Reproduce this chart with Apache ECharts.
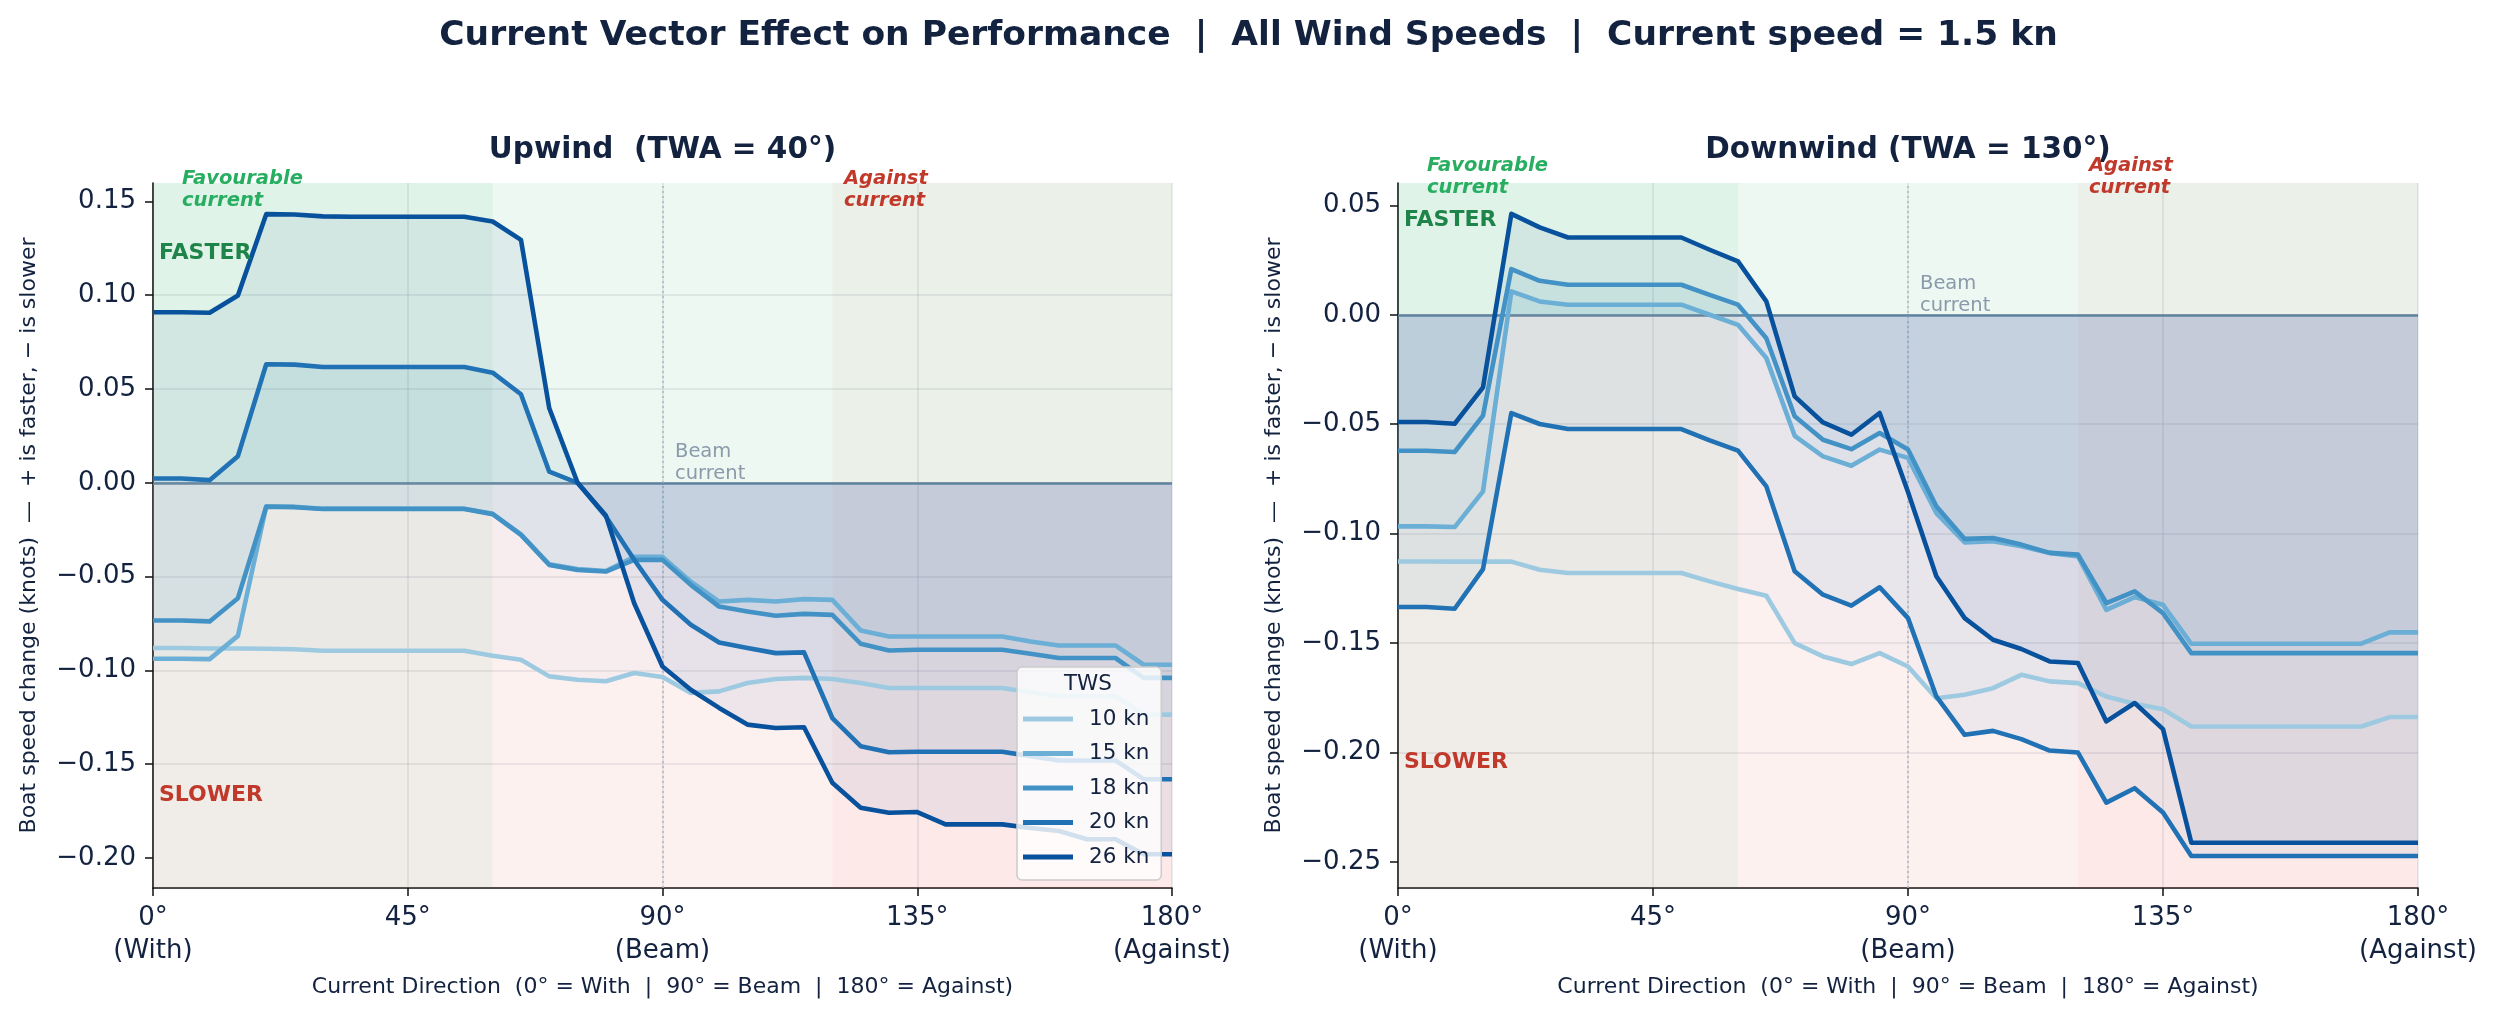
<!DOCTYPE html>
<html>
<head>
<meta charset="utf-8">
<script src="https://cdn.jsdelivr.net/npm/echarts@6/dist/echarts.min.js"></script>
<style>
html,body{margin:0;padding:0;background:#ffffff;}
#chart{width:2497px;height:1017px;}
</style>
</head>
<body>
<div id="chart"></div>
<script>
// ---------------- DATA ----------------
const currentDirection = [0,5,10,15,20,25,30,35,40,45,50,55,60,65,70,75,80,85,90,95,100,105,110,115,120,125,130,135,140,145,150,155,160,165,170,175,180];
const twsNames = ['10 kn','15 kn','18 kn','20 kn','26 kn'];

const upwind10 = [-0.0881,-0.0881,-0.0883,-0.0883,-0.0885,-0.0887,-0.0895,-0.0895,-0.0895,-0.0895,-0.0895,-0.0895,-0.0922,-0.0943,-0.1032,-0.1050,-0.1058,-0.1014,-0.1035,-0.1120,-0.1112,-0.1067,-0.1046,-0.1040,-0.1046,-0.1067,-0.1094,-0.1094,-0.1094,-0.1094,-0.1094,-0.1117,-0.1138,-0.1138,-0.1138,-0.1236,-0.1236];
const upwind15 = [-0.0938,-0.0938,-0.0940,-0.0816,-0.0125,-0.0128,-0.0138,-0.0138,-0.0138,-0.0138,-0.0138,-0.0138,-0.0165,-0.0275,-0.0435,-0.0460,-0.0470,-0.0395,-0.0395,-0.0527,-0.0633,-0.0624,-0.0633,-0.0620,-0.0624,-0.0787,-0.0819,-0.0819,-0.0819,-0.0819,-0.0819,-0.0846,-0.0867,-0.0867,-0.0867,-0.0970,-0.0970];
const upwind18 = [-0.0734,-0.0734,-0.0739,-0.0615,-0.0128,-0.0130,-0.0140,-0.0140,-0.0140,-0.0140,-0.0140,-0.0140,-0.0167,-0.0278,-0.0438,-0.0465,-0.0473,-0.0411,-0.0411,-0.0544,-0.0660,-0.0686,-0.0709,-0.0699,-0.0704,-0.0858,-0.0894,-0.0890,-0.0890,-0.0890,-0.0890,-0.0911,-0.0934,-0.0934,-0.0934,-0.1040,-0.1040];
const upwind20 = [0.0023,0.0023,0.0014,0.0142,0.0632,0.0630,0.0617,0.0617,0.0617,0.0617,0.0617,0.0617,0.0587,0.0472,0.0059,0.0000,-0.0180,-0.0410,-0.0624,-0.0757,-0.0851,-0.0881,-0.0908,-0.0904,-0.1254,-0.1404,-0.1436,-0.1434,-0.1434,-0.1434,-0.1434,-0.1457,-0.1480,-0.1480,-0.1480,-0.1580,-0.1580];
const upwind26 = [0.0909,0.0909,0.0906,0.0998,0.1432,0.1430,0.1420,0.1418,0.1418,0.1418,0.1418,0.1418,0.1393,0.1295,0.0397,0.0000,-0.0175,-0.0642,-0.0979,-0.1103,-0.1200,-0.1289,-0.1307,-0.1303,-0.1599,-0.1732,-0.1759,-0.1755,-0.1821,-0.1821,-0.1821,-0.1840,-0.1856,-0.1900,-0.1900,-0.1980,-0.1980];

const downwind10 = [-0.1127,-0.1127,-0.1128,-0.1128,-0.1128,-0.1165,-0.1180,-0.1180,-0.1180,-0.1180,-0.1180,-0.1218,-0.1253,-0.1284,-0.1500,-0.1561,-0.1596,-0.1546,-0.1607,-0.1752,-0.1736,-0.1706,-0.1645,-0.1675,-0.1683,-0.1744,-0.1777,-0.1802,-0.1881,-0.1881,-0.1881,-0.1881,-0.1881,-0.1881,-0.1881,-0.1838,-0.1838];
const downwind15 = [-0.0967,-0.0967,-0.0970,-0.0807,0.0107,0.0061,0.0046,0.0046,0.0046,0.0046,0.0046,0.0000,-0.0046,-0.0198,-0.0553,-0.0647,-0.0690,-0.0616,-0.0654,-0.0906,-0.1040,-0.1035,-0.1058,-0.1088,-0.1104,-0.1348,-0.1290,-0.1325,-0.1503,-0.1503,-0.1503,-0.1503,-0.1503,-0.1503,-0.1503,-0.1451,-0.1451];
const downwind18 = [-0.0621,-0.0621,-0.0627,-0.0461,0.0209,0.0155,0.0137,0.0137,0.0137,0.0137,0.0137,0.0091,0.0046,-0.0107,-0.0464,-0.0571,-0.0614,-0.0540,-0.0616,-0.0875,-0.1024,-0.1020,-0.1050,-0.1088,-0.1096,-0.1317,-0.1264,-0.1363,-0.1546,-0.1546,-0.1546,-0.1546,-0.1546,-0.1546,-0.1546,-0.1546,-0.1546];
const downwind20 = [-0.1335,-0.1335,-0.1343,-0.1162,-0.0449,-0.0499,-0.0522,-0.0522,-0.0522,-0.0522,-0.0522,-0.0574,-0.0621,-0.0784,-0.1172,-0.1279,-0.1329,-0.1245,-0.1386,-0.1744,-0.1919,-0.1901,-0.1939,-0.1991,-0.2000,-0.2229,-0.2163,-0.2274,-0.2473,-0.2473,-0.2473,-0.2473,-0.2473,-0.2473,-0.2473,-0.2473,-0.2473];
const downwind26 = [-0.0490,-0.0490,-0.0498,-0.0332,0.0461,0.0399,0.0353,0.0353,0.0353,0.0353,0.0353,0.0297,0.0244,0.0061,-0.0373,-0.0492,-0.0548,-0.0449,-0.0810,-0.1195,-0.1386,-0.1485,-0.1527,-0.1584,-0.1591,-0.1858,-0.1774,-0.1893,-0.2412,-0.2412,-0.2412,-0.2412,-0.2412,-0.2412,-0.2412,-0.2412,-0.2412];

const xTickValues = [0,45,90,135,180];
const xTickLabels = ['0°\n(With)','45°','90°\n(Beam)','135°','180°\n(Against)'];
const yTicksUpwind = [-0.20,-0.15,-0.10,-0.05,0.00,0.05,0.10,0.15];
const yTicksDownwind = [-0.25,-0.20,-0.15,-0.10,-0.05,0.00,0.05];

const suptitle = 'Current Vector Effect on Performance  |  All Wind Speeds  |  Current speed = 1.5 kn';
const panelTitles = ['Upwind  (TWA = 40°)','Downwind (TWA = 130°)'];
const yAxisName = 'Boat speed change (knots)  —  + is faster, − is slower';
const xAxisName = 'Current Direction  (0° = With  |  90° = Beam  |  180° = Against)';

// ---------------- STYLE ----------------
const FONT = '"DejaVu Sans", "Liberation Sans", sans-serif';
const NAVY = '#13223f';
const lineColors = ['#9ecae1','#6baed6','#4292c6','#2171b5','#08519c'];
const yRanges = [[-0.216, 0.1598],[-0.2619, 0.0602]];
const grids = [
  {left:153, top:183, width:1019, height:705},
  {left:1398, top:183, width:1020, height:705}
];

const chart = echarts.init(document.getElementById('chart'), null, {renderer:'canvas', width:2497, height:1017});

function xAxisCfg(gi){
  return {
    type:'value', gridIndex:gi, min:0, max:180, interval:45,
    name:xAxisName, nameLocation:'middle', nameGap:88,
    nameTextStyle:{fontFamily:FONT, fontSize:22, color:NAVY},
    axisLine:{show:true, onZero:false, lineStyle:{color:'#111111', width:1.6}},
    axisTick:{show:true, length:8, inside:false, lineStyle:{color:'#111111', width:1.5}},
    axisLabel:{margin:14, fontFamily:FONT, fontSize:26, color:NAVY, lineHeight:33,
      formatter:function(v){ const i = xTickValues.indexOf(v); return i>=0 ? xTickLabels[i] : ''; }},
    splitLine:{show:true, showMinLine:false, lineStyle:{color:'rgba(140,150,165,0.22)', width:1.5}}
  };
}
function yAxisCfg(gi, ticks){
  return {
    type:'value', gridIndex:gi, min:yRanges[gi][0], max:yRanges[gi][1],
    minInterval:0.05, maxInterval:0.05, splitNumber:7,
    name:yAxisName, nameLocation:'middle', nameGap:113, nameRotate:90,
    nameTextStyle:{fontFamily:FONT, fontSize:22, color:NAVY},
    axisLine:{show:true, lineStyle:{color:'#111111', width:1.6}},
    axisTick:{show:true, length:8, inside:false, customValues:ticks, lineStyle:{color:'#111111', width:1.5}},
    axisLabel:{margin:17, fontFamily:FONT, fontSize:26, color:NAVY, customValues:ticks,
      formatter:function(v){ const s = v.toFixed(2); return s.replace('-', '\u2212'); }},
    splitLine:{show:true, showMinLine:false, showMaxLine:false, lineStyle:{color:'rgba(140,150,165,0.22)', width:1.5}}
  };
}
function bandSeries(gi){
  const lo = yRanges[gi][0], hi = yRanges[gi][1];
  return {
    type:'line', name:'bands'+gi, xAxisIndex:gi, yAxisIndex:gi, data:[], silent:true, symbol:'none', z:1,
    markArea:{silent:true, data:[
      [{xAxis:0, yAxis:0, itemStyle:{color:'rgba(39,174,96,0.09)'}},{xAxis:180, yAxis:hi}],
      [{xAxis:0, yAxis:lo, itemStyle:{color:'rgba(231,76,60,0.08)'}},{xAxis:180, yAxis:0}],
      [{xAxis:0, yAxis:lo, itemStyle:{color:'rgba(39,174,96,0.06)'}},{xAxis:60, yAxis:hi}],
      [{xAxis:120, yAxis:lo, itemStyle:{color:'rgba(231,76,60,0.045)'}},{xAxis:180, yAxis:hi}]
    ]},
    markLine:{silent:true, symbol:'none', animation:false, label:{show:false}, data:[
      {yAxis:0, lineStyle:{color:'#6b8298', width:2.6, type:'solid'}},
      {xAxis:90, lineStyle:{color:'#aab4c2', width:1.5, type:[2,3]}}
    ]}
  };
}
function dataSeries(gi, arrays){
  return arrays.map(function(arr, k){
    return {
      type:'line', name:twsNames[k], xAxisIndex:gi, yAxisIndex:gi,
      data: currentDirection.map(function(a,i){ return [a, arr[i]]; }),
      symbol:'none', showSymbol:false, z:6, smooth:false,
      lineStyle:{color:lineColors[k], width:4.6, join:'round'},
      itemStyle:{color:lineColors[k]},
      areaStyle:{color:lineColors[k], opacity:0.065}
    };
  });
}

const series = [bandSeries(0), bandSeries(1)]
  .concat(dataSeries(0,[upwind10,upwind15,upwind18,upwind20,upwind26]))
  .concat(dataSeries(1,[downwind10,downwind15,downwind18,downwind20,downwind26]));

function txt(text, x, y, opts){
  return {type:'text', z:100, silent:true, style:Object.assign({
    text:text, x:x, y:y, fontFamily:FONT, fill:NAVY
  }, opts)};
}

const graphics = [
  txt(suptitle, 1248.5, 36, {fontSize:34.5, fontWeight:'bold', align:'center', verticalAlign:'middle'}),
  txt(panelTitles[0], 662.5, 150, {fontSize:29.5, fontWeight:'bold', align:'center', verticalAlign:'middle'}),
  txt(panelTitles[1], 1908, 150, {fontSize:29.5, fontWeight:'bold', align:'center', verticalAlign:'middle'}),
  txt('Favourable\ncurrent', 182, 168, {fontSize:19.5, fontWeight:'bold', fontStyle:'italic', lineHeight:22, fill:'#27ae60', align:'left', verticalAlign:'top'}),
  txt('Against\ncurrent', 844, 168, {fontSize:19.5, fontWeight:'bold', fontStyle:'italic', lineHeight:22, fill:'#c0392b', align:'left', verticalAlign:'top'}),
  txt('Favourable\ncurrent', 1427, 154.5, {fontSize:19.5, fontWeight:'bold', fontStyle:'italic', lineHeight:22, fill:'#27ae60', align:'left', verticalAlign:'top'}),
  txt('Against\ncurrent', 2089, 154.5, {fontSize:19.5, fontWeight:'bold', fontStyle:'italic', lineHeight:22, fill:'#c0392b', align:'left', verticalAlign:'top'}),
  txt('FASTER', 159, 253, {fontSize:22, fontWeight:'bold', fill:'#1e8449', align:'left', verticalAlign:'middle'}),
  txt('SLOWER', 159, 795, {fontSize:22, fontWeight:'bold', fill:'#c0392b', align:'left', verticalAlign:'middle'}),
  txt('FASTER', 1404, 220, {fontSize:22, fontWeight:'bold', fill:'#1e8449', align:'left', verticalAlign:'middle'}),
  txt('SLOWER', 1404, 762, {fontSize:22, fontWeight:'bold', fill:'#c0392b', align:'left', verticalAlign:'middle'}),
  txt('Beam\ncurrent', 675, 485, {fontSize:19.5, lineHeight:22, fill:'#8a9aab', align:'left', verticalAlign:'bottom'}),
  txt('Beam\ncurrent', 1920, 317, {fontSize:19.5, lineHeight:22, fill:'#8a9aab', align:'left', verticalAlign:'bottom'}),
  txt('TWS', 1088, 684, {fontSize:21.5, align:'center', verticalAlign:'middle'})
];

const option = {
  animation:false,
  backgroundColor:'#ffffff',
  textStyle:{fontFamily:FONT},
  grid:grids,
  xAxis:[xAxisCfg(0), xAxisCfg(1)],
  yAxis:[yAxisCfg(0, yTicksUpwind), yAxisCfg(1, yTicksDownwind)],
  legend:{
    data:twsNames, orient:'vertical', left:1017, top:667, z:20,
    icon:'rect', padding:[41,12,12,6], itemWidth:50, itemHeight:5, itemGap:12.5,
    backgroundColor:'rgba(255,255,255,0.82)', borderColor:'#cccccc', borderWidth:1.5, borderRadius:5,
    textStyle:{fontFamily:FONT, fontSize:21.5, color:NAVY, lineHeight:20, padding:[0,0,0,11]},
    selectedMode:false
  },
  series:series,
  graphic:graphics
};
chart.setOption(option);
</script>
</body>
</html>
